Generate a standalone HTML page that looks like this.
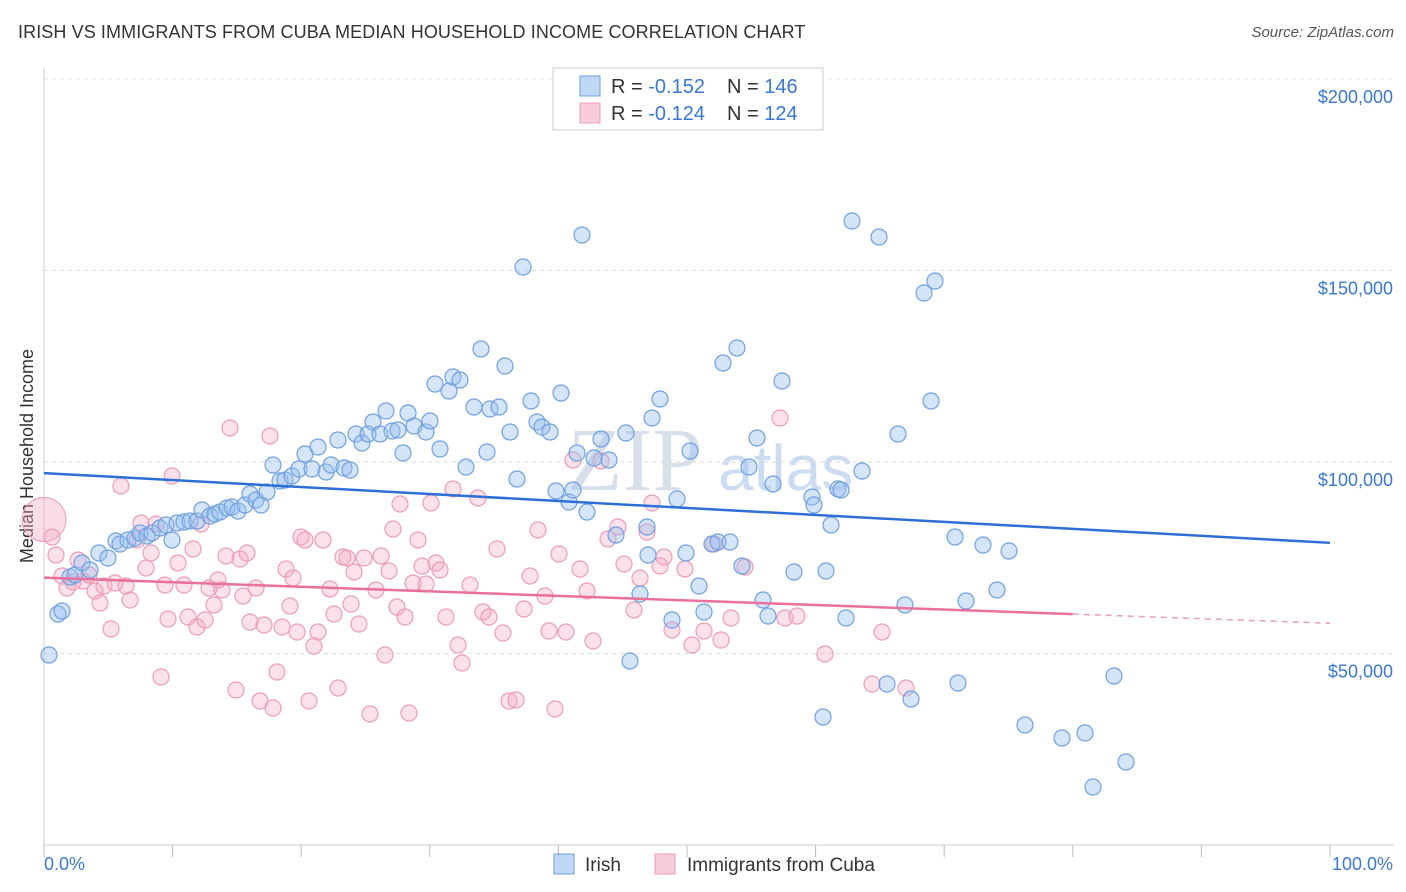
<!DOCTYPE html>
<html><head><meta charset="utf-8"><style>
body{margin:0;background:#fff;font-family:"Liberation Sans",sans-serif;}
#wrap{position:relative;width:1406px;height:892px;overflow:hidden;}
.title{position:absolute;left:18px;top:22px;font-size:18px;color:#333;letter-spacing:0.1px}
.src{position:absolute;right:12px;top:24px;font-size:15px;color:#555;font-style:italic}
</style></head><body>
<div id="wrap">
<div class="title">IRISH VS IMMIGRANTS FROM CUBA MEDIAN HOUSEHOLD INCOME CORRELATION CHART</div>
<div class="src">Source: ZipAtlas.com</div>
<svg id="svg" width="1406" height="892" style="position:absolute;left:0;top:0"></svg>
</div>
<script>
const yTicks=[50000,100000,150000,200000];
const yTickLabels=["$50,000","$100,000","$150,000","$200,000"];
const xTickLabels=["0.0%","100.0%"];
const irishX=[49,58,62,70,75,82,90,99,108,116,120,128,135,140,147,152,160,166,172,177,184,190,197,202,210,215,220,227,232,238,245,250,256,261,267,273,280,285,292,299,305,312,318,326,331,338,344,350,356,362,368,373,380,386,392,398,403,408,414,426,430,435,440,449,453,460,466,474,481,487,490,499,505,510,517,523,531,537,542,550,556,561,569,577,582,587,594,601,609,616,626,630,640,647,652,660,672,677,686,690,699,704,712,718,723,730,737,742,749,757,763,768,773,782,794,812,814,823,826,831,838,846,852,862,879,887,898,905,911,924,931,935,958,966,983,1009,997,1025,1062,1085,1114,1126,1093,955,841,648,573];
const irishY=[655,614,611,577,575,563,570,553,558,541,544,540,538,533,536,533,528,525,540,523,522,521,521,510,516,514,512,508,507,511,505,494,500,505,492,465,481,480,476,469,454,469,447,472,465,440,468,470,434,443,434,422,434,411,431,430,453,413,426,432,421,384,449,391,377,380,467,407,349,452,409,407,366,432,479,267,401,422,427,432,491,393,502,453,235,512,458,439,460,535,433,661,594,527,418,399,620,499,553,451,586,612,544,542,363,542,348,566,467,438,600,616,484,381,572,497,505,717,571,525,489,618,221,471,237,684,434,605,699,293,401,281,683,601,545,551,590,725,738,733,676,762,787,537,490,555,490];
const cubaX=[52,56,62,67,73,78,83,89,95,100,104,111,115,121,126,130,137,141,146,151,156,161,165,168,172,178,184,188,193,197,201,205,209,214,218,222,226,230,236,240,243,247,250,256,260,264,270,273,277,282,286,290,293,297,301,305,309,314,318,323,330,334,338,343,347,351,354,359,364,370,376,381,385,389,393,397,400,405,409,413,418,422,426,431,436,440,446,453,458,462,470,478,483,489,497,503,509,516,524,530,538,545,549,555,559,566,573,580,587,593,601,608,618,624,634,640,647,652,660,664,672,685,692,704,714,721,731,745,780,785,797,825,872,882,906];
const cubaY=[537,555,576,588,582,560,581,575,591,603,586,629,583,486,586,600,540,523,568,553,524,677,585,619,476,563,585,617,549,627,524,620,588,605,580,590,556,428,690,559,596,553,622,588,701,625,436,708,672,627,569,606,578,632,537,540,701,646,632,540,589,614,688,557,558,604,572,624,558,714,590,556,655,571,529,607,504,617,713,583,540,566,584,503,563,570,617,489,645,663,585,498,612,617,549,633,701,700,609,576,530,596,631,709,554,632,460,569,591,641,461,539,527,564,610,578,532,503,566,557,630,569,645,631,544,640,618,567,418,618,616,654,684,632,688];
const X0=44,X1=1330,Y0=845,PX50K=191.5;
const irishPct=irishX.map(p=>(p-X0)/(X1-X0)*100), irishVal=irishY.map(p=>(Y0-p)/PX50K*50000);
const cubaPct=cubaX.map(p=>(p-X0)/(X1-X0)*100), cubaVal=cubaY.map(p=>(Y0-p)/PX50K*50000);
const irishLine=[97100,78900], cubaLine=[69800,57900];
const xs=v=>X0+v/100*(X1-X0), ys=v=>Y0-v/50000*PX50K;
const svg=document.getElementById('svg');const NS='http://www.w3.org/2000/svg';
function mk(t,a,p){const e=document.createElementNS(NS,t);for(const k in a)e.setAttribute(k,a[k]);(p||svg).appendChild(e);return e;}
let wm=mk('text',{x:635,y:490,'font-size':90,'text-anchor':'middle',fill:'#d6dfea','font-family':'Liberation Serif'});wm.textContent='ZIP';


let wm2=mk('text',{x:718,y:490,'font-size':64,fill:'#cbdcf0','font-family':'Liberation Sans'});wm2.textContent='atlas';


yTicks.forEach((v,i)=>{const g=mk('line',{x1:44,x2:1394,y1:ys(v),y2:ys(v),stroke:'#ddd','stroke-dasharray':'4,4'});


const t=mk('text',{x:1393,y:ys(v)+24,'text-anchor':'end','font-size':18,fill:'#3a78d4'});t.textContent=yTickLabels[i];

});
mk('line',{x1:44,x2:44,y1:68,y2:845,stroke:'#ccc'});
mk('line',{x1:44,x2:1394,y1:845,y2:845,stroke:'#ccc'});
for(let i=0;i<=10;i++){const l=mk('line',{x1:xs(i*10),x2:xs(i*10),y1:845,y2:857,stroke:'#bbb'});

}
let xl=mk('text',{x:44,y:870,'font-size':18,fill:'#3a78d4'});xl.textContent=xTickLabels[0];


let xr=mk('text',{x:1393,y:870,'font-size':18,fill:'#3a78d4','text-anchor':'end'});xr.textContent=xTickLabels[1];


let yt=mk('text',{x:33,y:456,'font-size':18,fill:'#333','text-anchor':'middle',transform:'rotate(-90 33 456)'});yt.textContent='Median Household Income';


let bp=mk('circle',{cx:xs(0),cy:ys(85000),r:22,fill:'rgba(245,170,195,0.4)',stroke:'#ec9cb8'});


cubaPct.forEach((p,i)=>{const c=mk('circle',{cx:xs(p),cy:ys(cubaVal[i]),r:8,fill:'rgba(245,170,195,0.35)',stroke:'#ec9cb8','stroke-width':1.2});

});
irishPct.forEach((p,i)=>{const c=mk('circle',{cx:xs(p),cy:ys(irishVal[i]),r:8,fill:'rgba(150,190,240,0.4)',stroke:'#6fa0e0','stroke-width':1.2});

});
let bl=mk('line',{x1:xs(0),x2:xs(100),y1:ys(irishLine[0]),y2:ys(irishLine[1]),stroke:'#2e6fd6','stroke-width':2.5});


const cAt=p=>cubaLine[0]+(cubaLine[1]-cubaLine[0])*p/100;
let pl=mk('line',{x1:xs(0),x2:xs(80),y1:ys(cAt(0)),y2:ys(cAt(80)),stroke:'#e8709a','stroke-width':2.5});


let pd=mk('line',{x1:xs(80),x2:xs(100),y1:ys(cAt(80)),y2:ys(cAt(100)),stroke:'#e8a0b8','stroke-width':1.5,'stroke-dasharray':'6,5'});


let lg=mk('g',{});
mk('rect',{x:553,y:68,width:270,height:62,fill:'#fff',stroke:'#ccc'},lg);
[[86,'-0.152','146','rgba(150,190,240,0.6)','#6fa0e0'],[113,'-0.124','124','rgba(245,170,195,0.6)','#ec9cb8']].forEach(r=>{
mk('rect',{x:580,y:r[0]-10,width:20,height:20,fill:r[3],stroke:r[4]},lg);
const t=mk('text',{x:611,y:r[0]+7,'font-size':20,fill:'#333'},lg);
t.innerHTML='R = <tspan fill="#3a78d4">'+r[1]+'</tspan><tspan x="727">N = </tspan><tspan fill="#3a78d4">'+r[2]+'</tspan>';});
let bl2=mk('g',{});
mk('rect',{x:554,y:854,width:20,height:20,fill:'rgba(150,190,240,0.6)',stroke:'#6fa0e0'},bl2);
let t1=mk('text',{x:585,y:871,'font-size':19,fill:'#333'},bl2);t1.textContent='Irish';
mk('rect',{x:655,y:854,width:20,height:20,fill:'rgba(245,170,195,0.6)',stroke:'#ec9cb8'},bl2);
let t2=mk('text',{x:687,y:871,'font-size':19,fill:'#333'},bl2);t2.textContent='Immigrants from Cuba';
</script>
</body></html>
